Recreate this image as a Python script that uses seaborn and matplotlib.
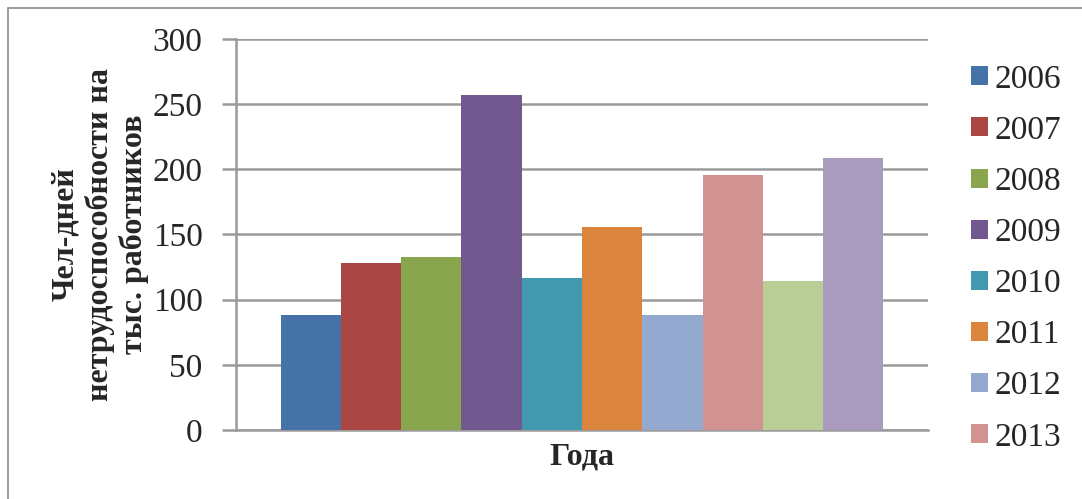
import pandas as pd
import matplotlib
matplotlib.use("Agg")
import matplotlib.pyplot as plt
from matplotlib.patches import Rectangle
import seaborn as sns

# Data
years = ['2006', '2007', '2008', '2009', '2010', '2011', '2012', '2013', '2014', '2015']
values = [88, 128, 133, 257, 117, 156, 88, 196, 114, 209]
colors = ['#4572A7', '#AA4643', '#89A54E', '#71588F', '#4198AF',
          '#DB843D', '#93A9CF', '#D19392', '#B9CD96', '#A99BBD']
y_ticks = [0, 50, 100, 150, 200, 250, 300]

df = pd.DataFrame({'group': [''] * len(years), 'year': years, 'value': values})

sns.set_style("white")
plt.rcParams['font.family'] = ['Liberation Serif', 'DejaVu Serif']

fig = plt.figure(figsize=(10.82, 4.99), dpi=100)
ax = fig.add_axes([236 / 1082, 69 / 499, 692 / 1082, 391 / 499])

sns.barplot(data=df, x='group', y='value', hue='year', palette=colors,
            saturation=1, width=0.871, linewidth=0, ax=ax, zorder=3)

grid_col = '#9a9a9a'
ax.set_ylim(0, 300)
ax.set_yticks(y_ticks)
ax.set_yticklabels([str(t) for t in y_ticks], fontsize=24)
ax.yaxis.grid(True, color=grid_col, linewidth=1.8, zorder=0)
ax.set_axisbelow(True)
ax.tick_params(axis='y', length=10, width=1.8, color=grid_col, pad=14, left=True)
ax.tick_params(axis='x', length=0, labelbottom=False)
for side in ['top', 'right']:
    ax.spines[side].set_visible(False)
for side in ['left', 'bottom']:
    ax.spines[side].set_color(grid_col)
    ax.spines[side].set_linewidth(1.8)

ax.set_xlabel('Года', fontsize=23, fontweight='bold', labelpad=9)
ax.set_ylabel('Чел-дней\nнетрудоспособности на\nтыс. работников', fontsize=23,
              fontweight='bold', va='center', multialignment='center', linespacing=1.2)
ax.yaxis.set_label_coords(-0.1965, 0.5)

# Legend (only first eight entries are visible in the original)
handles, labels = ax.get_legend_handles_labels()
ax.get_legend().remove()
fig.legend(handles[:8], labels[:8], loc='upper left',
           bbox_to_anchor=(971 / 1082, 1 - 64 / 499), frameon=False,
           fontsize=24, handlelength=0.5, handleheight=0.5, handletextpad=0.22,
           labelspacing=0.62, borderpad=0, borderaxespad=0)

# Outer frame of the chart area
fig.add_artist(Rectangle((8 / 1082, -0.1), 1.2, 1.1 - 8 / 499, transform=fig.transFigure,
                         fill=False, edgecolor='#8c8c8c', linewidth=1.2))

fig.savefig('out.png', dpi=100)
